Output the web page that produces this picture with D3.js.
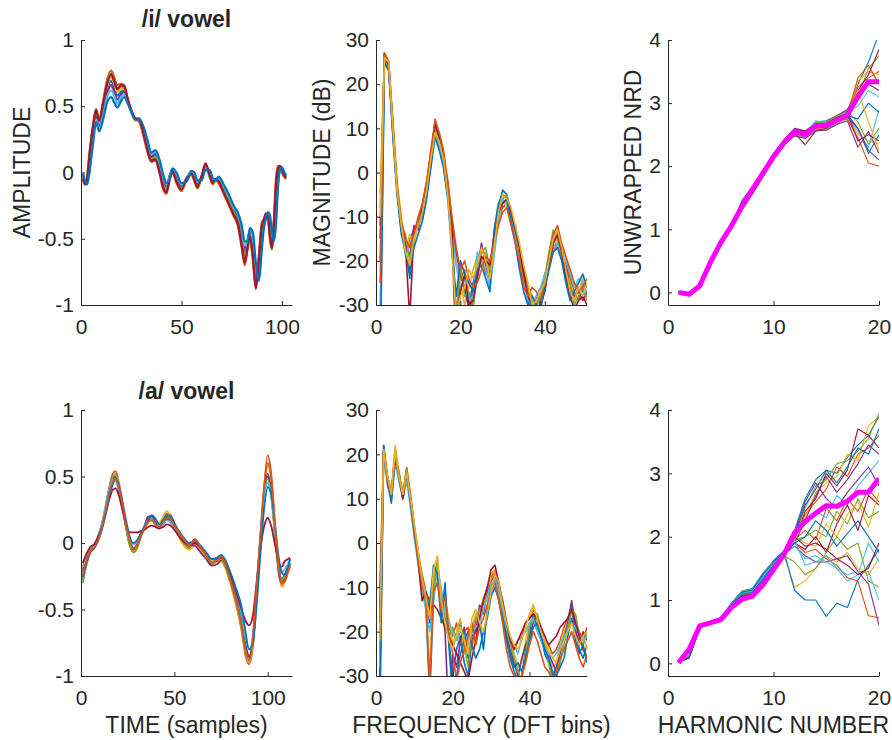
<!DOCTYPE html>
<html><head><meta charset="utf-8">
<script src="https://cdn.jsdelivr.net/npm/d3@7"></script>
<style>
body{margin:0;background:#fff}
svg{display:block}
text{font-family:"Liberation Sans",Arial,Helvetica,sans-serif;fill:#262626}
</style>
</head><body>
<svg id="c" width="892" height="740"></svg>
<script>
// ---------- DATA ----------
const colors = ["#0072BD","#D95319","#EDB120","#7E2F8E","#77AC30","#4DBEEE","#A2142F"];
const meanColor = "#FF00FF";

const titles = ["/i/ vowel", "/a/ vowel"];
const yLabels = ["AMPLITUDE", "MAGNITUDE (dB)", "UNWRAPPED NRD"];
const xLabels = ["TIME (samples)", "FREQUENCY (DFT bins)", "HARMONIC NUMBER"];

const ampTicks = [-1, -0.5, 0, 0.5, 1];
const dbTicks = [-30, -20, -10, 0, 10, 20, 30];
const nrdTicks = [0, 1, 2, 3, 4];
const timeTicks = [0, 50, 100];
const freqTicks = [0, 20, 40];
const harmTicks = [0, 10, 20];

// /i/ waveforms (sample index, amplitude)
const iTime = [1,2,3,4,6,7.5,9,11,13,15,16.5,18,20,21.5,23,25,27,29,31,33,35,37,39,41,42.5,44,45.5,47.5,50,52.5,55,56.5,58,60,62,64,65.5,67,68.5,71,74,76,78,80,81.5,83,84,85.5,87,88.5,90,91,92,93,94,95,96,97,98,99,100,101,102];
const iWaves = [
 [-0.03,-0.08,-0.07,0.05,0.30,0.44,0.36,0.48,0.63,0.69,0.64,0.58,0.61,0.62,0.55,0.46,0.40,0.40,0.32,0.20,0.11,0.13,0.04,-0.08,-0.11,-0.03,0.02,-0.05,-0.11,-0.04,0.00,-0.04,-0.09,-0.03,0.04,-0.02,-0.07,-0.05,-0.05,-0.12,-0.22,-0.28,-0.34,-0.47,-0.60,-0.50,-0.45,-0.58,-0.82,-0.70,-0.42,-0.38,-0.33,-0.31,-0.40,-0.52,-0.45,-0.22,-0.02,0.03,0.01,-0.02,-0.04],
 [-0.05,-0.09,-0.04,0.12,0.36,0.48,0.40,0.54,0.70,0.77,0.72,0.66,0.67,0.66,0.57,0.46,0.40,0.38,0.28,0.16,0.08,0.09,0.00,-0.13,-0.16,-0.06,0.00,-0.08,-0.14,-0.05,-0.01,-0.07,-0.12,-0.03,0.06,-0.03,-0.09,-0.06,-0.08,-0.16,-0.26,-0.33,-0.40,-0.57,-0.70,-0.55,-0.50,-0.66,-0.88,-0.62,-0.38,-0.35,-0.31,-0.34,-0.50,-0.58,-0.35,-0.05,0.05,0.04,0.00,-0.03,-0.05],
 [-0.04,-0.08,-0.06,0.07,0.32,0.45,0.37,0.50,0.65,0.72,0.67,0.61,0.63,0.63,0.55,0.46,0.39,0.39,0.30,0.18,0.10,0.11,0.02,-0.10,-0.14,-0.05,0.01,-0.06,-0.13,-0.06,-0.02,-0.05,-0.11,-0.04,0.03,-0.03,-0.08,-0.06,-0.07,-0.14,-0.24,-0.31,-0.37,-0.52,-0.66,-0.57,-0.49,-0.62,-0.86,-0.74,-0.45,-0.40,-0.33,-0.32,-0.44,-0.56,-0.48,-0.25,-0.03,0.03,0.02,-0.01,-0.04],
 [-0.02,-0.07,-0.08,0.03,0.27,0.42,0.34,0.46,0.60,0.66,0.61,0.55,0.59,0.61,0.55,0.47,0.41,0.41,0.33,0.22,0.12,0.14,0.06,-0.06,-0.10,-0.04,0.03,-0.03,-0.10,-0.05,0.01,-0.03,-0.08,-0.04,0.04,-0.01,-0.06,-0.05,-0.04,-0.11,-0.21,-0.27,-0.33,-0.45,-0.58,-0.52,-0.44,-0.55,-0.78,-0.75,-0.48,-0.38,-0.33,-0.31,-0.38,-0.50,-0.48,-0.28,-0.05,0.02,0.02,-0.01,-0.03],
 [-0.04,-0.08,-0.05,0.09,0.34,0.47,0.39,0.52,0.68,0.75,0.69,0.63,0.65,0.64,0.56,0.46,0.40,0.39,0.31,0.18,0.09,0.12,0.03,-0.11,-0.13,-0.04,0.02,-0.07,-0.12,-0.05,0.00,-0.06,-0.10,-0.03,0.05,-0.03,-0.08,-0.05,-0.06,-0.13,-0.23,-0.30,-0.36,-0.50,-0.64,-0.53,-0.47,-0.60,-0.84,-0.68,-0.40,-0.37,-0.32,-0.32,-0.46,-0.58,-0.42,-0.15,0.01,0.05,0.02,-0.02,-0.04],
 [-0.01,-0.07,-0.09,-0.01,0.24,0.40,0.33,0.43,0.57,0.62,0.58,0.52,0.57,0.59,0.54,0.46,0.41,0.41,0.34,0.23,0.14,0.16,0.08,-0.04,-0.09,-0.05,0.03,-0.01,-0.09,-0.06,0.01,-0.01,-0.07,-0.05,0.03,0.01,-0.05,-0.06,-0.04,-0.10,-0.19,-0.26,-0.31,-0.42,-0.55,-0.52,-0.43,-0.50,-0.72,-0.80,-0.54,-0.40,-0.34,-0.30,-0.35,-0.47,-0.50,-0.35,-0.08,0.01,0.03,0.00,-0.02],
 [-0.05,-0.09,-0.05,0.10,0.35,0.47,0.39,0.52,0.67,0.74,0.69,0.63,0.66,0.65,0.57,0.47,0.41,0.40,0.30,0.17,0.09,0.10,0.01,-0.12,-0.15,-0.06,0.01,-0.07,-0.13,-0.05,-0.01,-0.06,-0.11,-0.03,0.07,-0.02,-0.08,-0.05,-0.07,-0.15,-0.25,-0.32,-0.38,-0.55,-0.68,-0.56,-0.48,-0.63,-0.87,-0.66,-0.40,-0.36,-0.31,-0.33,-0.48,-0.57,-0.38,-0.10,0.03,0.05,0.02,-0.02,-0.04],
 [-0.01,-0.06,-0.09,-0.02,0.22,0.38,0.31,0.40,0.53,0.57,0.53,0.49,0.54,0.57,0.53,0.46,0.40,0.40,0.35,0.25,0.15,0.17,0.10,-0.02,-0.08,-0.06,0.03,0.00,-0.08,-0.07,0.01,0.00,-0.06,-0.06,0.02,0.02,-0.04,-0.06,-0.03,-0.09,-0.18,-0.25,-0.30,-0.40,-0.52,-0.52,-0.42,-0.45,-0.68,-0.82,-0.58,-0.42,-0.35,-0.30,-0.32,-0.44,-0.52,-0.40,-0.12,0.02,0.04,0.01,-0.02]
];

// /i/ spectra (DFT bins 1..50, dB)
const iBins = [1,2,3,4,5,6,7,8,9,10,11,12,13,14,15,16,17,18,19,20,21,22,23,24,25,26,27,28,29,30,31,32,33,34,35,36,37,38,39,40,41,42,43,44,45,46,47,48,49,50];
const iSpectra = [
 [-40,26,24,10,-3,-12,-17,-24,-14,-12,-9,-4,3,9,7,2,-5,-12,-35,-22,-27,-30,-25,-21,-17,-19,-23,-15,-8,-4,-5,-9,-14,-19,-24,-28,-31,-33,-29,-25,-19,-15,-13,-17,-23,-27,-29,-26,-27,-28],
 [-12,27,25,11,-4,-11,-18,-15,-13,-11,-7,-2,4,10,8,3,-3,-16,-40,-24,-22,-28,-30,-20,-19,-23,-20,-17,-11,-8,-7,-10,-12,-17,-22,-26,-28,-30,-27,-23,-21,-18,-16,-19,-21,-24,-27,-29,-25,-26],
 [-5,27,25,12,-2,-10,-18,-14,-16,-12,-10,-3,5,11,6,2,-4,-13,-20,-25,-30,-26,-22,-19,-21,-18,-25,-16,-12,-6,-8,-11,-15,-20,-25,-27,-30,-29,-28,-26,-22,-17,-15,-18,-22,-25,-28,-27,-24,-28],
 [-20,26,24,9,-4,-13,-16,-19,-12,-13,-8,-4,3,12,7,3,-2,-11,-18,-23,-26,-31,-27,-22,-16,-21,-24,-14,-10,-7,-6,-9,-13,-18,-22,-29,-31,-28,-30,-24,-20,-16,-14,-17,-21,-26,-28,-27,-29,-27],
 [-8,27,25,10,-3,-12,-14,-20,-15,-11,-9,-3,4,10,8,4,-4,-15,-32,-21,-28,-27,-31,-23,-18,-17,-22,-18,-10,-6,-5,-10,-14,-18,-24,-27,-29,-31,-27,-24,-18,-13,-15,-19,-23,-25,-30,-28,-26,-29],
 [-30,26,24,9,-5,-13,-19,-16,-14,-12,-10,-5,2,9,6,2,-5,-14,-21,-26,-24,-29,-28,-18,-20,-22,-26,-19,-11,-6,-7,-10,-15,-21,-25,-29,-30,-28,-26,-23,-20,-17,-16,-18,-20,-23,-26,-24,-25,-27],
 [-15,27,24,10,-4,-12,-17,-33,-13,-12,-8,-3,4,11,8,4,-3,-12,-38,-27,-23,-30,-29,-24,-19,-20,-21,-14,-9,-7,-6,-9,-13,-17,-23,-28,-30,-32,-30,-27,-21,-16,-14,-18,-24,-28,-31,-29,-28,-30],
 [-45,25,23,8,-5,-14,-18,-22,-17,-14,-11,-6,1,8,5,1,-6,-18,-28,-20,-23,-25,-27,-22,-21,-24,-27,-13,-7,-5,-6,-11,-16,-22,-27,-30,-28,-30,-31,-26,-22,-18,-17,-20,-25,-29,-27,-25,-23,-26],
 [-25,27,25,11,-3,-11,-15,-17,-14,-10,-7,-2,5,12,9,5,-2,-10,-17,-22,-20,-24,-26,-25,-22,-19,-20,-16,-12,-9,-8,-12,-16,-20,-26,-28,-26,-27,-29,-25,-19,-14,-12,-16,-19,-22,-25,-27,-26,-24],
 [-10,26,25,10,-4,-12,-18,-21,-15,-12,-9,-4,3,9,7,3,-5,-17,-33,-28,-26,-22,-24,-21,-17,-20,-24,-17,-9,-5,-6,-8,-12,-16,-21,-25,-30,-29,-27,-25,-20,-15,-13,-17,-22,-27,-29,-26,-28,-25]
];

// harmonic numbers 1..20
const harmonics = [1,2,3,4,5,6,7,8,9,10,11,12,13,14,15,16,17,18,19,20];
const iNrd = [
 [0.00,-0.02,0.12,0.45,0.80,1.08,1.42,1.62,1.88,2.17,2.40,2.56,2.53,2.70,2.72,2.80,2.88,3.30,3.65,4.10],
 [0.00,-0.03,0.11,0.46,0.78,1.04,1.33,1.58,1.85,2.18,2.42,2.58,2.48,2.62,2.62,2.72,2.85,3.25,3.40,3.50],
 [0.00,-0.02,0.10,0.48,0.82,1.06,1.38,1.66,1.92,2.16,2.38,2.55,2.52,2.65,2.66,2.75,2.83,3.35,3.50,3.45],
 [0.00,-0.03,0.09,0.47,0.79,1.05,1.45,1.68,1.93,2.20,2.42,2.60,2.56,2.68,2.70,2.80,2.90,3.15,3.30,3.20],
 [0.00,-0.04,0.09,0.44,0.77,1.02,1.30,1.57,1.84,2.10,2.33,2.50,2.45,2.58,2.58,2.67,2.76,3.10,3.55,3.75],
 [0.00,-0.03,0.10,0.46,0.80,1.07,1.40,1.64,1.90,2.14,2.36,2.54,2.52,2.72,2.68,2.78,2.86,2.95,3.20,3.10],
 [0.00,-0.03,0.11,0.47,0.78,1.03,1.32,1.56,1.83,2.12,2.35,2.52,2.34,2.56,2.60,2.70,2.80,3.20,3.45,3.85],
 [0.00,-0.03,0.10,0.48,0.81,1.06,1.37,1.64,1.90,2.16,2.39,2.57,2.51,2.64,2.65,2.74,2.82,2.60,2.20,2.50],
 [0.00,-0.02,0.11,0.46,0.79,1.05,1.35,1.61,1.88,2.15,2.37,2.54,2.47,2.60,2.61,2.71,2.75,2.45,2.05,2.00],
 [0.00,-0.03,0.10,0.47,0.80,1.06,1.38,1.65,1.91,2.17,2.38,2.56,2.50,2.66,2.65,2.74,2.79,2.50,2.40,2.35],
 [0.00,-0.04,0.09,0.45,0.77,1.03,1.31,1.58,1.85,2.11,2.34,2.48,2.44,2.56,2.57,2.66,2.72,2.30,2.55,2.20],
 [0.00,-0.02,0.11,0.47,0.80,1.07,1.39,1.63,1.89,2.16,2.39,2.58,2.54,2.69,2.70,2.79,2.87,2.70,2.35,2.60],
 [0.00,-0.03,0.10,0.46,0.79,1.05,1.34,1.60,1.87,2.20,2.41,2.56,2.46,2.61,2.63,2.72,2.80,2.55,2.30,2.90],
 [0.00,-0.03,0.10,0.47,0.81,1.06,1.41,1.66,1.91,2.17,2.40,2.59,2.55,2.67,2.68,2.77,2.84,2.40,2.50,2.40],
 [0.00,-0.03,0.10,0.46,0.79,1.04,1.36,1.62,1.89,2.15,2.37,2.55,2.50,2.66,2.64,2.74,2.80,2.75,3.00,2.85],
 [0.00,-0.03,0.10,0.47,0.80,1.05,1.36,1.63,1.88,2.14,2.36,2.54,2.49,2.63,2.64,2.73,2.82,3.40,3.60,3.30],
 [0.00,-0.03,0.11,0.46,0.79,1.06,1.37,1.62,1.90,2.16,2.38,2.55,2.51,2.64,2.65,2.74,2.83,3.20,2.70,2.25],
 [0.00,-0.03,0.10,0.47,0.80,1.05,1.35,1.62,1.88,2.14,2.36,2.53,2.49,2.62,2.63,2.72,2.78,2.60,2.25,2.10]
];
const iNrdMean = [0.00,-0.03,0.10,0.47,0.79,1.05,1.36,1.63,1.89,2.15,2.37,2.55,2.50,2.64,2.64,2.73,2.81,3.10,3.34,3.34];

// /a/ waveforms
const aTime = [1,3,5,7,9,11,13,15,17,18.5,20,22,24,26,28,30,32,34,36,38,40,42,44,46,48,50,52,55,58,61,64,67,70,73,75,77,80,83,86,88,90,92,94,96,98,100,102,104,106,107.5,109,111,112];
const aWaves = [
 [-0.22,-0.12,-0.05,-0.03,0.03,0.12,0.24,0.38,0.47,0.49,0.43,0.30,0.14,0.02,-0.04,-0.01,0.06,0.12,0.17,0.18,0.14,0.12,0.16,0.20,0.18,0.12,0.07,0.00,-0.03,0.00,-0.04,-0.10,-0.14,-0.13,-0.12,-0.16,-0.28,-0.42,-0.60,-0.76,-0.85,-0.72,-0.35,0.02,0.35,0.50,0.35,0.05,-0.20,-0.27,-0.24,-0.18,-0.16],
 [-0.28,-0.16,-0.07,-0.04,0.02,0.12,0.25,0.41,0.52,0.54,0.47,0.32,0.13,-0.01,-0.07,-0.04,0.05,0.13,0.19,0.20,0.16,0.13,0.17,0.22,0.21,0.14,0.08,0.01,-0.04,0.01,-0.05,-0.11,-0.16,-0.14,-0.12,-0.17,-0.30,-0.46,-0.66,-0.84,-0.91,-0.78,-0.40,0.00,0.40,0.66,0.50,0.10,-0.22,-0.32,-0.28,-0.20,-0.17],
 [-0.25,-0.14,-0.06,-0.03,0.02,0.11,0.22,0.36,0.46,0.49,0.44,0.31,0.15,0.01,-0.06,-0.03,0.04,0.10,0.15,0.19,0.16,0.15,0.20,0.24,0.19,0.12,0.06,-0.02,-0.05,-0.02,-0.06,-0.11,-0.15,-0.15,-0.14,-0.18,-0.30,-0.45,-0.64,-0.82,-0.90,-0.75,-0.38,0.01,0.38,0.58,0.45,0.08,-0.22,-0.33,-0.30,-0.22,-0.18],
 [-0.20,-0.11,-0.05,-0.02,0.04,0.13,0.26,0.40,0.48,0.50,0.44,0.30,0.13,0.00,-0.05,-0.02,0.05,0.13,0.20,0.20,0.15,0.11,0.14,0.18,0.17,0.13,0.09,0.03,-0.01,-0.02,-0.07,-0.12,-0.17,-0.16,-0.13,-0.15,-0.27,-0.40,-0.58,-0.76,-0.86,-0.74,-0.36,0.03,0.36,0.52,0.38,0.06,-0.24,-0.30,-0.26,-0.17,-0.15],
 [-0.30,-0.15,-0.06,-0.03,0.03,0.12,0.24,0.38,0.49,0.52,0.45,0.30,0.12,-0.01,-0.07,-0.03,0.05,0.11,0.16,0.18,0.14,0.13,0.18,0.21,0.18,0.11,0.06,0.00,-0.03,0.01,-0.03,-0.09,-0.14,-0.13,-0.12,-0.17,-0.29,-0.44,-0.63,-0.80,-0.89,-0.76,-0.38,0.00,0.33,0.48,0.34,0.04,-0.20,-0.28,-0.25,-0.19,-0.16],
 [-0.18,-0.10,-0.04,-0.02,0.05,0.14,0.27,0.40,0.47,0.47,0.40,0.27,0.13,0.03,-0.01,0.01,0.07,0.13,0.17,0.17,0.13,0.11,0.14,0.17,0.15,0.11,0.08,0.02,-0.01,0.01,-0.02,-0.08,-0.12,-0.11,-0.10,-0.13,-0.24,-0.37,-0.54,-0.70,-0.80,-0.70,-0.38,-0.02,0.32,0.45,0.33,0.06,-0.16,-0.22,-0.20,-0.15,-0.12],
 [-0.15,-0.08,-0.03,-0.01,0.04,0.11,0.21,0.32,0.40,0.41,0.37,0.26,0.14,0.08,0.08,0.08,0.09,0.10,0.12,0.13,0.12,0.11,0.12,0.14,0.13,0.10,0.06,0.01,-0.02,0.00,-0.03,-0.08,-0.12,-0.12,-0.11,-0.14,-0.24,-0.36,-0.50,-0.58,-0.62,-0.55,-0.30,-0.05,0.12,0.19,0.12,-0.02,-0.15,-0.18,-0.14,-0.12,-0.11],
 [-0.26,-0.14,-0.07,-0.04,0.01,0.09,0.20,0.34,0.44,0.48,0.44,0.33,0.18,0.05,0.00,0.02,0.07,0.12,0.17,0.21,0.18,0.14,0.17,0.21,0.20,0.15,0.10,0.04,0.00,0.02,-0.02,-0.07,-0.12,-0.11,-0.09,-0.12,-0.22,-0.34,-0.48,-0.66,-0.80,-0.76,-0.48,-0.10,0.25,0.42,0.36,0.12,-0.12,-0.22,-0.24,-0.18,-0.12],
 [-0.24,-0.13,-0.06,-0.04,0.02,0.10,0.23,0.37,0.46,0.48,0.43,0.31,0.15,0.02,-0.04,-0.02,0.05,0.11,0.16,0.17,0.14,0.12,0.16,0.19,0.18,0.13,0.09,0.03,-0.02,0.03,-0.03,-0.09,-0.15,-0.13,-0.10,-0.15,-0.28,-0.43,-0.62,-0.80,-0.88,-0.72,-0.33,0.05,0.42,0.60,0.48,0.12,-0.18,-0.30,-0.29,-0.21,-0.17]
];

// /a/ spectra (DFT bins 1..55, dB)
const aBins = [1,2,3,4,5,6,7,8,9,10,11,12,13,14,15,16,17,18,19,20,21,22,23,24,25,26,27,28,29,30,31,32,33,34,35,36,37,38,39,40,41,42,43,44,45,46,47,48,49,50,51,52,53,54,55];
const aSpectra = [
 [-30,22,15,10,19,16,10,15,9,2,-4,-10,-14,-35,-12,-4,-14,-11,-22,-30,-24,-21,-27,-30,-22,-20,-18,-24,-15,-10,-8,-12,-16,-22,-26,-29,-31,-30,-24,-20,-16,-19,-21,-25,-27,-30,-28,-25,-21,-19,-15,-20,-24,-26,-23],
 [-15,21,14,11,21,15,11,17,11,4,-2,-7,-11,-13,-9,-5,-11,-17,-19,-21,-18,-23,-20,-19,-24,-17,-15,-13,-10,-8,-6,-9,-14,-19,-23,-24,-22,-21,-18,-17,-15,-17,-19,-22,-23,-25,-24,-22,-19,-17,-14,-18,-20,-22,-19],
 [-25,20,15,12,22,15,12,16,10,3,-3,-8,-13,-30,-8,-3,-16,-13,-17,-23,-20,-17,-25,-22,-19,-16,-17,-12,-13,-7,-6,-11,-13,-17,-22,-25,-28,-27,-22,-18,-14,-18,-20,-21,-26,-28,-27,-23,-20,-18,-16,-17,-22,-21,-24],
 [-35,21,13,10,20,14,10,15,9,2,-4,-9,-12,-18,-11,-6,-13,-20,-40,-25,-28,-22,-19,-26,-21,-20,-14,-16,-11,-9,-7,-10,-15,-21,-24,-27,-30,-26,-23,-21,-18,-16,-22,-24,-25,-27,-29,-24,-22,-18,-13,-19,-23,-20,-22],
 [-20,21,14,11,21,16,11,17,10,3,-3,-9,-14,-16,-10,-4,-12,-15,-21,-19,-22,-18,-23,-28,-20,-17,-15,-14,-12,-10,-8,-12,-17,-20,-23,-26,-29,-31,-25,-19,-17,-16,-19,-23,-27,-31,-30,-27,-23,-19,-15,-16,-21,-23,-20],
 [-28,20,14,10,18,14,10,14,8,1,-5,-11,-15,-20,-13,-6,-10,-16,-18,-20,-22,-20,-21,-23,-20,-19,-18,-15,-12,-9,-8,-11,-15,-19,-22,-23,-25,-21,-20,-18,-17,-20,-22,-24,-25,-26,-25,-23,-21,-20,-18,-19,-21,-22,-21],
 [-18,21,15,11,20,15,10,16,10,3,-4,-13,-11,-15,-14,-15,-17,-19,-21,-23,-25,-27,-29,-31,-26,-22,-17,-13,-10,-6,-5,-9,-13,-18,-22,-24,-22,-20,-18,-17,-16,-17,-19,-21,-23,-22,-21,-19,-18,-17,-15,-18,-21,-24,-26],
 [-40,22,14,9,19,15,11,16,9,2,-3,-8,-12,-14,-5,-7,-18,-9,-23,-35,-30,-25,-22,-20,-23,-26,-24,-20,-17,-12,-10,-13,-17,-21,-25,-28,-27,-29,-26,-22,-19,-18,-21,-24,-26,-29,-30,-28,-26,-21,-17,-22,-25,-23,-27],
 [-10,21,14,11,20,15,11,16,10,3,-4,-9,-13,-32,-11,-9,-15,-12,-20,-25,-31,-27,-24,-21,-18,-23,-19,-17,-14,-11,-9,-13,-18,-24,-28,-30,-32,-30,-27,-23,-20,-22,-25,-28,-29,-31,-29,-26,-24,-22,-20,-23,-26,-28,-25],
 [-22,21,15,11,21,15,11,16,10,4,-2,-8,-12,-17,-6,-3,-13,-18,-22,-24,-21,-19,-22,-25,-17,-15,-18,-20,-16,-11,-7,-9,-14,-18,-21,-23,-24,-22,-19,-16,-14,-17,-20,-22,-24,-26,-27,-24,-22,-20,-18,-21,-23,-21,-20]
];

const aNrd = [
 [0.02,0.11,0.58,0.66,0.72,0.95,1.14,1.18,1.42,1.62,1.78,2.10,2.60,2.90,3.05,3.00,3.25,3.45,3.60,3.90],
 [0.02,0.10,0.57,0.64,0.70,0.92,1.09,1.12,1.32,1.55,1.74,2.00,2.35,2.55,2.75,3.10,2.95,3.30,3.40,3.60],
 [0.02,0.11,0.58,0.65,0.71,0.93,1.11,1.14,1.36,1.58,1.77,2.10,2.30,2.70,2.85,2.95,3.30,3.20,3.75,3.90],
 [0.02,0.09,0.56,0.63,0.69,0.90,1.07,1.10,1.30,1.53,1.72,1.90,2.25,2.65,2.95,2.70,2.90,3.15,3.45,3.30],
 [0.02,0.12,0.59,0.64,0.70,0.92,1.10,1.13,1.35,1.57,1.75,2.05,2.45,2.80,2.90,3.15,3.20,3.35,3.55,3.95],
 [0.02,0.10,0.57,0.64,0.70,0.92,1.10,1.13,1.34,1.56,1.75,2.00,2.20,2.40,2.30,2.65,2.50,2.80,3.00,3.20],
 [0.02,0.09,0.56,0.63,0.69,0.90,1.06,1.09,1.28,1.52,1.73,1.95,2.40,2.60,3.00,2.80,3.05,3.70,3.60,3.40],
 [0.02,0.10,0.57,0.65,0.71,0.93,1.12,1.15,1.38,1.60,1.76,2.00,2.50,2.75,3.05,2.85,3.10,3.40,3.30,3.70],
 [0.02,0.10,0.57,0.64,0.70,0.91,1.08,1.11,1.31,1.54,1.73,1.95,2.10,1.95,2.45,2.25,2.60,2.40,2.75,2.55],
 [0.02,0.11,0.58,0.65,0.71,0.94,1.13,1.17,1.40,1.61,1.70,1.20,1.30,1.50,1.70,1.60,1.75,1.50,1.40,1.65],
 [0.02,0.09,0.56,0.63,0.69,0.90,1.06,1.09,1.29,1.52,1.72,1.85,1.70,1.60,1.60,1.65,1.70,1.45,1.25,0.60],
 [0.02,0.10,0.57,0.64,0.70,0.91,1.08,1.11,1.31,1.54,1.73,1.95,2.00,2.10,2.00,2.40,2.20,2.60,2.30,2.40],
 [0.02,0.11,0.58,0.65,0.71,0.93,1.12,1.15,1.37,1.59,1.76,1.85,1.65,1.70,1.60,1.50,1.30,1.40,1.90,1.60],
 [0.02,0.09,0.56,0.63,0.69,0.90,1.05,1.08,1.27,1.50,1.71,1.90,1.80,2.00,1.75,2.20,2.50,2.10,2.65,2.50],
 [0.02,0.10,0.57,0.65,0.71,0.93,1.12,1.16,1.40,1.60,1.76,1.15,1.00,1.00,0.74,0.95,0.88,1.32,1.55,1.80],
 [0.02,0.10,0.57,0.64,0.70,0.91,1.08,1.11,1.31,1.53,1.73,1.90,1.75,1.80,1.65,1.55,1.35,1.30,0.75,0.72],
 [0.02,0.10,0.57,0.64,0.70,0.92,1.09,1.12,1.33,1.55,1.74,2.00,1.90,1.85,2.20,2.00,2.35,2.55,2.15,2.70],
 [0.02,0.09,0.56,0.63,0.69,0.90,1.06,1.09,1.29,1.52,1.72,2.05,2.55,2.85,2.60,2.45,2.70,2.90,3.10,2.80],
 [0.02,0.10,0.57,0.64,0.70,0.91,1.09,1.12,1.32,1.54,1.70,1.60,1.40,1.50,1.75,2.00,1.80,1.90,1.30,1.20],
 [0.02,0.10,0.57,0.64,0.70,0.92,1.10,1.13,1.34,1.56,1.75,1.95,1.55,1.60,1.70,1.50,1.40,1.45,1.45,1.00],
 [0.02,0.09,0.56,0.63,0.69,0.90,1.06,1.09,1.28,1.51,1.72,2.00,1.85,1.90,1.80,1.65,1.55,1.40,1.50,1.90],
 [0.02,0.10,0.57,0.64,0.70,0.92,1.09,1.12,1.33,1.55,1.74,1.90,2.00,2.25,2.10,1.85,2.05,2.25,2.00,1.75]
];
const aNrdMean = [0.01,0.22,0.59,0.64,0.69,0.88,1.01,1.06,1.24,1.48,1.72,2.06,2.24,2.37,2.49,2.48,2.56,2.70,2.70,2.92];

// ---------- LAYOUT ----------
const cols = [[81,292],[376,587],[668,879]];
const rows = [[40,305],[410,676]];
const FONT = '"Liberation Sans",Arial,Helvetica,sans-serif';
const svg = d3.select("#c");

function panel(cfg){
  const [L,R] = cols[cfg.col], [T,B] = rows[cfg.row];
  const x = d3.scaleLinear().domain(cfg.xDomain).range([L,R]);
  const y = d3.scaleLinear().domain(cfg.yDomain).range([B,T]);
  const id = "clip"+cfg.row+cfg.col;
  svg.append("clipPath").attr("id",id).append("rect")
     .attr("x",L).attr("y",T).attr("width",R-L).attr("height",B-T);
  const g = svg.append("g").attr("clip-path",`url(#${id})`);
  const line = d3.line().x((d,i)=>x(cfg.xs[i])).y(d=>y(d)).curve(cfg.curve);
  cfg.series.forEach((s,i)=>{
    g.append("path").attr("d",line(s.slice(0,cfg.xs.length)))
     .attr("fill","none").attr("stroke",colors[i%colors.length])
     .attr("stroke-width",cfg.lw).attr("stroke-linejoin","round");
  });
  if(cfg.mean){
    g.append("path").attr("d",line(cfg.mean)).attr("fill","none")
     .attr("stroke",meanColor).attr("stroke-width",5).attr("stroke-linejoin","round");
  }
  const ax = svg.append("g").attr("transform",`translate(0,${B})`)
    .call(d3.axisBottom(x).tickValues(cfg.xTicks).tickFormat(d=>String(d))
      .tickSizeInner(-4).tickSizeOuter(0).tickPadding(14));
  const ay = svg.append("g").attr("transform",`translate(${L},0)`)
    .call(d3.axisLeft(y).tickValues(cfg.yTicks).tickFormat(d=>String(d))
      .tickSizeInner(-4).tickSizeOuter(0).tickPadding(7));
  [ax,ay].forEach(a=>{
    a.attr("font-size",21).attr("font-family",FONT).attr("color","#262626");
    a.select(".domain").attr("stroke","#262626").attr("stroke-width",1);
    a.selectAll(".tick line").attr("stroke","#262626");
    a.selectAll("text").attr("fill","#262626");
  });
  if(cfg.row===0){
    const cx = [30,330,641][cfg.col];
    svg.append("text").attr("transform",`translate(${cx},${(T+B)/2}) rotate(-90)`)
      .attr("text-anchor","middle").attr("font-size",23).text(yLabels[cfg.col]);
  }
  if(cfg.row===1){
    svg.append("text").attr("x",(L+R)/2).attr("y",733).attr("text-anchor","middle")
      .attr("font-size",23).text(xLabels[cfg.col]);
  }
  if(cfg.col===0){
    svg.append("text").attr("x",(L+R)/2).attr("y",[26.5,399][cfg.row]).attr("text-anchor","middle")
      .attr("font-size",23).attr("font-weight","bold").text(titles[cfg.row]);
  }
}

panel({row:0,col:0,xDomain:[0,105],yDomain:[-1,1],xs:iTime,series:iWaves,curve:d3.curveMonotoneX,lw:2.2,xTicks:timeTicks,yTicks:ampTicks});
panel({row:0,col:1,xDomain:[0,50],yDomain:[-30,30],xs:iBins,series:iSpectra,curve:d3.curveLinear,lw:1.6,xTicks:freqTicks,yTicks:dbTicks});
panel({row:0,col:2,xDomain:[0,20],yDomain:[-0.2,4],xs:harmonics,series:iNrd,mean:iNrdMean,curve:d3.curveLinear,lw:1.1,xTicks:harmTicks,yTicks:nrdTicks});
panel({row:1,col:0,xDomain:[0,113],yDomain:[-1,1],xs:aTime,series:aWaves,curve:d3.curveMonotoneX,lw:1.8,xTicks:timeTicks,yTicks:ampTicks});
panel({row:1,col:1,xDomain:[0,55],yDomain:[-30,30],xs:aBins,series:aSpectra,curve:d3.curveLinear,lw:1.6,xTicks:freqTicks,yTicks:dbTicks});
panel({row:1,col:2,xDomain:[0,20],yDomain:[-0.2,4],xs:harmonics,series:aNrd,mean:aNrdMean,curve:d3.curveLinear,lw:1.1,xTicks:harmTicks,yTicks:nrdTicks});
</script>
</body></html>
